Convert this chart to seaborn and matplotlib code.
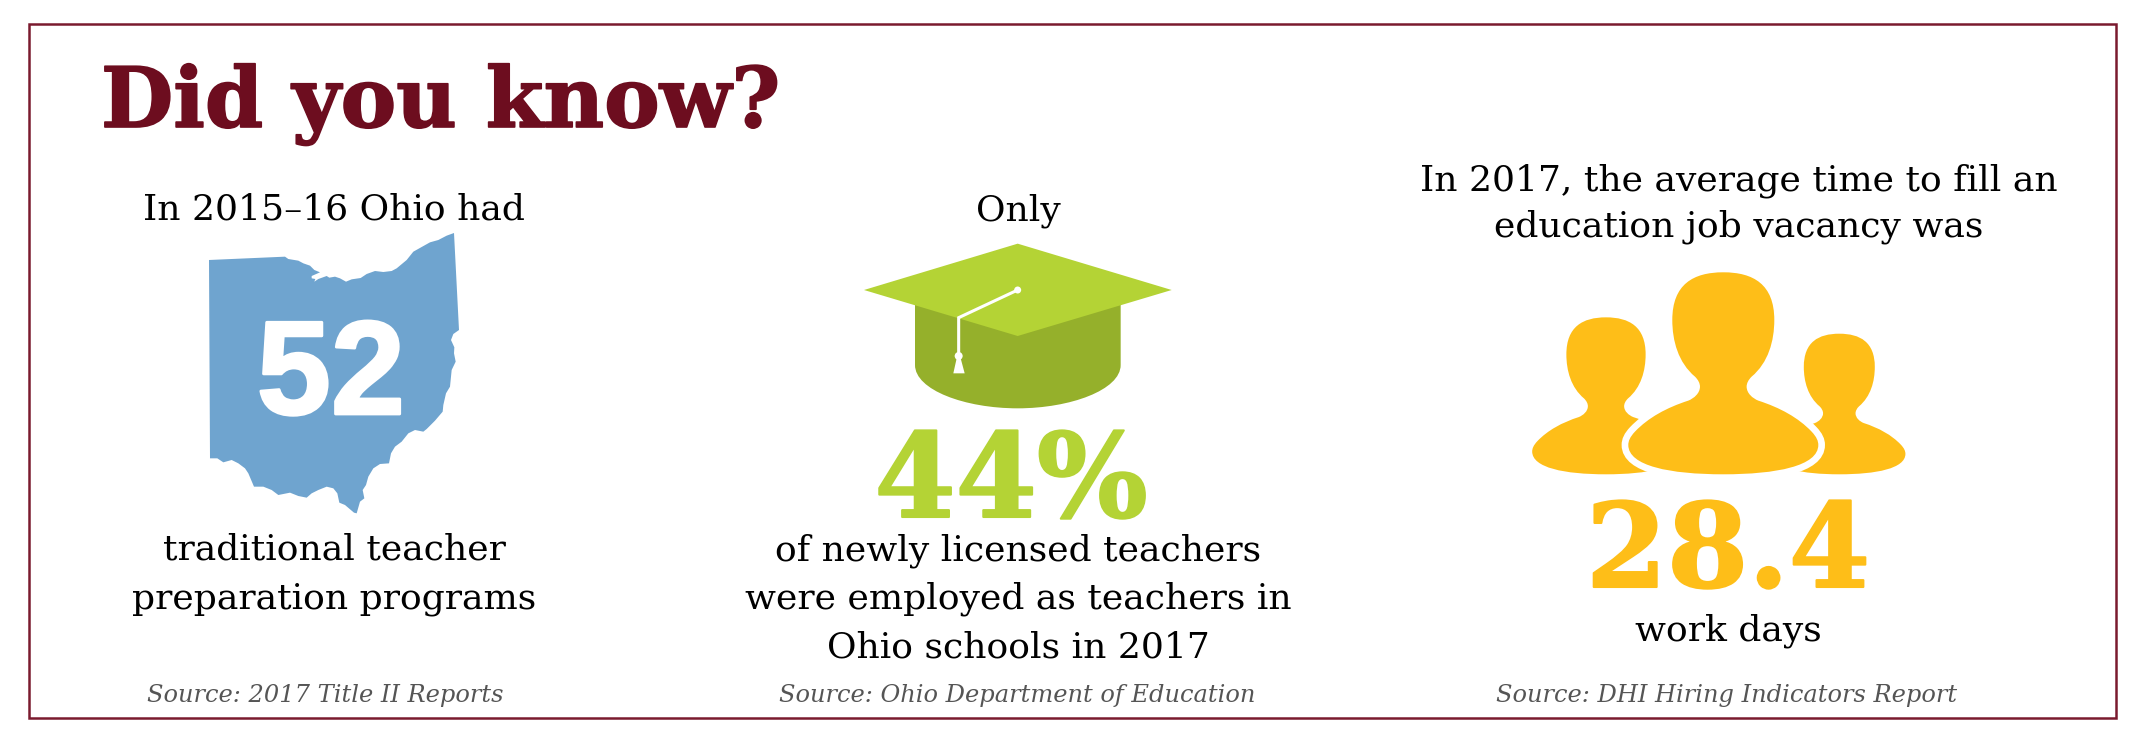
import matplotlib
matplotlib.use('Agg')
import matplotlib.pyplot as plt
import matplotlib.patheffects as pe
from matplotlib.patches import Polygon, PathPatch, Rectangle, Circle
from matplotlib.path import Path
import seaborn as sns

# Text content
title = "Did you know?"
stats = ["52", "44%", "28.4"]
intro = [["In 2015\u201316 Ohio had"], ["Only"],
         ["In 2017, the average time to fill an", "education job vacancy was"]]
outro = [["traditional teacher", "preparation programs"],
         ["of newly licensed teachers", "were employed as teachers in", "Ohio schools in 2017"],
         ["work days"]]
sources = ["Source: 2017 Title II Reports",
           "Source: Ohio Department of Education",
           "Source: DHI Hiring Indicators Report"]

# Icon outlines
ohio_outline = [(237,150),(465,140),(475,147),(505,152),(520,160),(540,167),(553,180),(570,187),(545,198),
    (545,205),(556,207),(553,215),(565,207),(590,198),(598,203),(615,200),(630,205),(648,215),(665,208),
    (692,204),(710,192),(735,183),(760,186),(785,183),(800,175),(830,150),(850,125),(900,97),(925,90),
    (950,77),(972,69),(987,360),(970,372),(963,390),(973,412),(972,430),(977,455),(965,480),(960,530),
    (948,550),(940,585),(938,605),(915,632),(890,657),(880,665),(855,660),(835,670),(815,695),(795,710),
    (783,730),(777,760),(750,762),(730,775),(715,800),(708,825),(698,840),(703,865),(690,875),(680,910),
    (672,908),(645,885),(628,878),(622,850),(610,835),(590,830),(565,840),(545,850),(530,863),(505,858),
    (480,848),(445,855),(425,840),(400,830),(372,830),(355,790),(345,775),(325,760),(305,750),(280,757),
    (262,745),(240,745)]
person_half = [(-90,606),(-153,570),(-153,463), (-153,400),(-135,335),(-85,293),
    (-75,283),(-70,273),(-70,263), (-70,243),(-88,228),(-105,221),
    (-170,200),(-225,170),(-265,128), (-280,112),(-285,100),(-285,88),
    (-285,25),(-160,0),(0,0)]

sns.set_theme(style="white")

maroon = '#6d0d1f'
blue = '#6fa4cf'
lime = '#b4d335'
olive = '#95b02b'
gold = '#febe18'

fig = plt.figure(figsize=(21.46, 7.46), dpi=100)
ax = fig.add_axes([0, 0, 1, 1])
ax.set_xlim(0, 2146)
ax.set_ylim(746, 0)
ax.axis('off')

def heavier(color, width):
    return [pe.withStroke(linewidth=width, foreground=color)]

ax.add_patch(Rectangle((29, 24), 2087, 694, fill=False, ec='#7a1a2e', lw=1.8))
ax.text(101, 127, title, family='DejaVu Serif', weight='bold', fontsize=60, color=maroon, ha='left', va='baseline',
        path_effects=heavier(maroon, 1.2))

# Ohio
ax.add_patch(Polygon([(130 + x / 3, 210 + y / 3) for x, y in ohio_outline], closed=True, fc=blue, ec='none'))
ax.text(331, 414, stats[0], family='Liberation Sans', weight='bold', fontsize=96, color='white', ha='center', va='baseline',
        path_effects=heavier('white', 2))

# Cap
def cap(zx, zy):
    return (840 + zx / 3, 230 + zy / 3)

base = Path([cap(225,225), cap(225,405), cap(225,480), cap(375,535), cap(533,535), cap(690,535), cap(842,480),
             cap(842,405), cap(842,225), cap(225,225)],
            [Path.MOVETO, Path.LINETO, Path.CURVE4, Path.CURVE4, Path.CURVE4, Path.CURVE4, Path.CURVE4, Path.CURVE4,
             Path.LINETO, Path.CLOSEPOLY])
ax.add_patch(PathPatch(base, fc=olive, ec='none'))
ax.add_patch(Polygon([cap(533,41), cap(995,180), cap(533,318), cap(72,180)], closed=True, fc=lime, ec='none'))
ax.plot(*zip(cap(533,180), cap(356,263), cap(356,378)), color='white', lw=2.2, solid_joinstyle='miter')
ax.add_patch(Circle(cap(533,180), 3.5, fc='white', ec='none'))
ax.add_patch(Circle(cap(356,378), 4, fc='white', ec='none'))
ax.add_patch(Polygon([cap(350,385), cap(362,385), cap(374,430), cap(340,430)], closed=True, fc='white', ec='none'))
ax.text(1011, 517, stats[1], family='DejaVu Serif', weight='bold', fontsize=84, color=lime, ha='center', va='baseline',
        path_effects=heavier(lime, 1.5))

# People
def person_path(cx, bottom, scale):
    verts = [(0, 606)] + person_half
    # mirror the left half to close the outline
    verts = verts + [(-x, y) for x, y in reversed(person_half[:-1])] + [(0, 606)]
    codes = [Path.MOVETO] + [Path.CURVE4] * (len(verts) - 1)
    return Path([(cx + x * scale, bottom - y * scale) for x, y in verts], codes)

ax.add_patch(PathPatch(person_path(1606, 474.3, 0.777 / 3), fc=gold, ec='none'))
ax.add_patch(PathPatch(person_path(1839.3, 474.3, 0.696 / 3), fc=gold, ec='none'))
ax.add_patch(PathPatch(person_path(1723.3, 474.3, 1 / 3), fc='white', ec='white', lw=9.6))
ax.add_patch(PathPatch(person_path(1723.3, 474.3, 1 / 3), fc=gold, ec='none'))
ax.text(1728, 587, stats[2], family='DejaVu Serif', weight='bold', fontsize=84, color=gold, ha='center', va='baseline',
        path_effects=heavier(gold, 1.5))

# Body text
body = dict(family='DejaVu Serif', fontsize=26, color='black', ha='center', va='baseline')
note = dict(family='DejaVu Serif', style='italic', fontsize=17.4, color='#555555', ha='center', va='baseline')
intro_x = [334, 1018, 1739]
outro_x = [334, 1018, 1728]
source_x = [325, 1017, 1727]
outro_y = [[560, 609], [560, 609, 657], [641]]
intro_y = [[220], [220], [190, 237]]
for i in range(3):
    for line, y in zip(intro[i], intro_y[i]):
        ax.text(intro_x[i], y, line, **body)
    for line, y in zip(outro[i], outro_y[i]):
        ax.text(outro_x[i], y, line, **body)
    ax.text(source_x[i], 702, sources[i], **note)

fig.savefig('out.png', dpi=100, facecolor='white')
